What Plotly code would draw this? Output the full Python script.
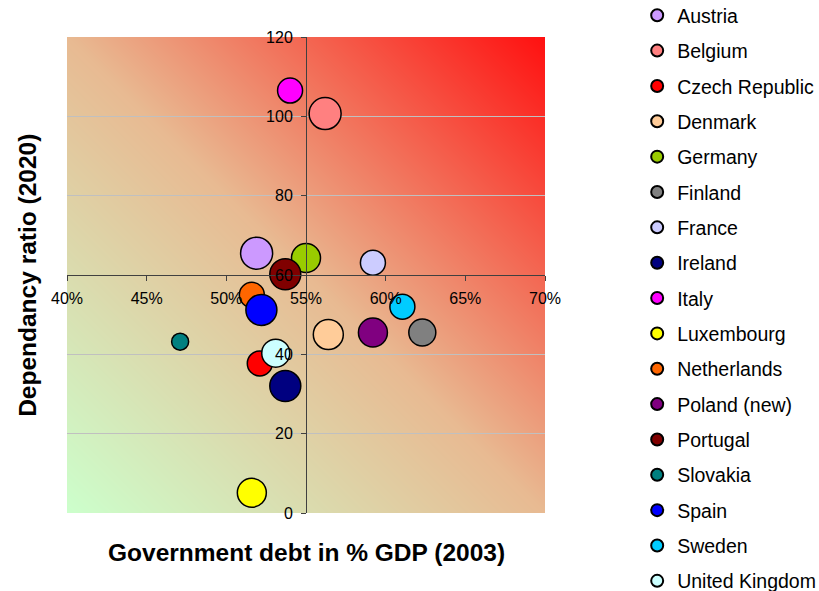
import plotly.graph_objects as go

countries = ["Austria", "Belgium", "Czech Republic", "Denmark", "Germany", "Finland",
             "France", "Ireland", "Italy", "Luxembourg", "Netherlands", "Poland (new)",
             "Portugal", "Slovakia", "Spain", "Sweden", "United Kingdom"]
gov_debt_pct = [51.9, 56.2, 52.1, 56.4, 55.0, 62.3, 59.2, 53.7, 54.0, 51.6, 51.6, 59.2,
                53.7, 47.1, 52.2, 61.05, 53.1]
dependency_ratio = [65.5, 100.7, 37.7, 45.0, 64.3, 45.5, 63.1, 32.0, 106.5, 5.1, 55.0, 45.5,
                    60.2, 43.2, 51.2, 52.0, 40.3]
bubble_size = [32, 32, 25, 30, 29, 27, 25, 31, 25, 29, 25, 29, 31, 17, 31, 25, 28]
colors = ["#cc99ff", "#ff8080", "#ff0000", "#ffcc99", "#99cc00", "#808080", "#ccccff",
          "#000080", "#ff00ff", "#ffff00", "#ff6600", "#800080", "#800000", "#008080",
          "#0000ff", "#00ccff", "#ccffff"]
x_ticks = [40, 45, 50, 55, 60, 65, 70]
x_tick_labels = ["40%", "45%", "50%", "55%", "60%", "65%", "70%"]
y_ticks = [0, 20, 40, 60, 80, 100, 120]

FONT = "Liberation Sans, Arial, sans-serif"
X_RANGE = [x_ticks[0], x_ticks[-1]]
Y_RANGE = [y_ticks[0], y_ticks[-1]]

fig = go.Figure()

# background diagonal gradient (green bottom-left -> red top-right) on a base subplot
fig.add_trace(go.Heatmap(
    x=X_RANGE, y=Y_RANGE, z=[[0, 0.5], [0.5, 1]], zsmooth="best", showscale=False,
    colorscale=[[0, "#ccffcc"], [0.5, "#e8ba92"], [1, "#ff1010"]], zmin=0, zmax=1,
    hoverinfo="skip", xaxis="x", yaxis="y", showlegend=False,
))

for name, xv, yv, s, c in zip(countries, gov_debt_pct, dependency_ratio, bubble_size, colors):
    fig.add_trace(go.Scatter(
        x=[xv], y=[yv], mode="markers", name=name, legendgroup=name,
        xaxis="x2", yaxis="y2",
        marker=dict(size=[s], sizemode="diameter", sizeref=1, color=c, opacity=1,
                    line=dict(color="black", width=1.5)),
    ))

fig.update_layout(
    width=819, height=591,
    margin=dict(l=67, r=274, t=37, b=78),
    paper_bgcolor="white", plot_bgcolor="rgba(0,0,0,0)",
    font=dict(family=FONT, color="black", size=16),
    xaxis=dict(range=X_RANGE, visible=False, domain=[0, 1]),
    yaxis=dict(range=Y_RANGE, visible=False, domain=[0, 1]),
    xaxis2=dict(range=X_RANGE, tickvals=x_ticks, ticktext=x_tick_labels, anchor="free",
                position=0.5, domain=[0, 1],
                showline=True, linecolor="#404040", linewidth=1, ticks="outside", ticklen=5,
                tickcolor="#404040", showgrid=False, zeroline=False, ticklabelstandoff=4,
                tickfont=dict(size=16, family=FONT)),
    yaxis2=dict(range=Y_RANGE, tickvals=y_ticks, anchor="free", position=0.5, domain=[0, 1],
                showline=True, linecolor="#404040", linewidth=1, ticks="outside", ticklen=5,
                tickcolor="#404040", showgrid=True, gridcolor="#c0c0c0", gridwidth=1,
                zeroline=False, ticklabelstandoff=5, tickfont=dict(size=16, family=FONT)),
    legend=dict(xref="container", yref="paper", x=0.778, y=1.086, xanchor="left",
                yanchor="top", font=dict(size=19.5, family=FONT), itemsizing="constant",
                tracegroupgap=7, bgcolor="rgba(0,0,0,0)", maxheight=700),
    annotations=[
        dict(text="<b>Government debt in % GDP (2003)</b>", xref="paper", yref="paper",
             x=0.5, y=-0.0833, xanchor="center", yanchor="middle", showarrow=False,
             font=dict(size=24.5, family=FONT)),
        dict(text="<b>Dependancy ratio (2020)</b>", xref="paper", yref="paper",
             x=-0.084, y=0.5, xanchor="center", yanchor="middle", showarrow=False,
             textangle=-90, font=dict(size=24.5, family=FONT)),
    ],
)

fig.write_html("out.html")
